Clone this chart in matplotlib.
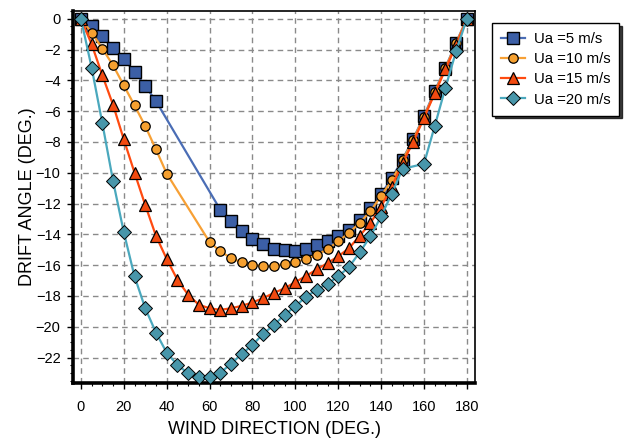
import matplotlib
matplotlib.use("Agg")
import matplotlib.pyplot as plt
from matplotlib.ticker import MultipleLocator

plt.rcParams['font.family'] = ['Liberation Sans', 'DejaVu Sans']

# Data
x5 = [0, 5, 10, 15, 20, 25, 30, 35,
      65, 70, 75, 80, 85, 90, 95, 100, 105, 110, 115, 120, 125, 130, 135,
      140, 145, 150, 155, 160, 165, 170, 175, 180]
y5 = [0, -0.47, -1.12, -1.87, -2.63, -3.44, -4.37, -5.35,
      -12.4, -13.1, -13.8, -14.3, -14.6, -14.93, -15.04, -15.08, -14.95, -14.72,
      -14.4, -14.1, -13.7, -13.05, -12.3, -11.4, -10.33, -9.14, -7.8, -6.32,
      -4.7, -3.18, -1.55, 0]

x10 = [0, 5, 10, 15, 20, 25, 30, 35, 40,
       60, 65, 70, 75, 80, 85, 90, 95, 100, 105, 110, 115, 120, 125, 130, 135,
       140, 145, 150, 155, 160, 165, 170, 175, 180]
y10 = [0, -0.9, -1.94, -3.03, -4.33, -5.63, -6.97, -8.49, -10.05,
       -14.5, -15.1, -15.54, -15.82, -15.97, -16.08, -16.04, -15.93, -15.78,
       -15.6, -15.35, -14.95, -14.46, -13.9, -13.26, -12.5, -11.5, -10.5, -9.2,
       -7.85, -6.38, -4.78, -3.22, -1.6, 0]

x15 = [0, 5, 10, 15, 20, 25, 30, 35, 40, 45, 50, 55, 60, 65, 70, 75, 80, 85,
       90, 95, 100, 105, 110, 115, 120, 125, 130, 135, 140, 145, 150, 155, 160,
       165, 170, 175, 180]
y15 = [0, -1.66, -3.68, -5.6, -7.84, -10.0, -12.1, -14.1, -15.6, -16.95,
       -17.92, -18.57, -18.8, -18.9, -18.8, -18.64, -18.42, -18.14, -17.8, -17.5,
       -17.1, -16.7, -16.28, -15.86, -15.43, -14.9, -14.1, -13.26, -12.2, -10.9,
       -9.36, -8.0, -6.43, -4.85, -3.29, -1.72, 0]

x20 = [0, 5, 10, 15, 20, 25, 30, 35, 40, 45, 50, 55, 60, 65, 70, 75, 80, 85,
       90, 95, 100, 105, 110, 115, 120, 125, 130, 135, 140, 145, 150,
       160, 165, 170, 175, 180]
y20 = [0, -3.18, -6.8, -10.55, -13.87, -16.73, -18.8, -20.38, -21.68, -22.48,
       -23.02, -23.24, -23.24, -22.98, -22.41, -21.76, -21.18, -20.46, -19.88,
       -19.23, -18.66, -18.05, -17.6, -17.2, -16.73, -16.12, -15.17, -14.13,
       -12.83, -11.35, -9.75, -9.42, -6.97, -4.48, -2.1, 0]

labels = ['Ua =5 m/s', 'Ua =10 m/s', 'Ua =15 m/s', 'Ua =20 m/s']
xticks = list(range(0, 181, 20))
yticks = list(range(-22, 1, 2))

fig = plt.figure(figsize=(6.31, 4.41), dpi=100)
ax = fig.add_axes([0.1157, 0.1315, 0.6371, 0.8435])

ax.plot(x5, y5, color='#4a6db5', lw=1.6, marker='s', ms=8.5, mfc='#3c5fa6',
        mec='black', mew=1.0, label=labels[0], zorder=3)
ax.plot(x10, y10, color='#f7a035', lw=1.6, marker='o', ms=6.8, mfc='#f5a030',
        mec='black', mew=0.9, label=labels[1], zorder=4)
ax.plot(x15, y15, color='#ff4a10', lw=1.6, marker='^', ms=8, mfc='#f24a10',
        mec='black', mew=0.9, label=labels[2], zorder=5)
ax.plot(x20, y20, color='#4aa8bd', lw=1.6, marker='D', ms=6.8, mfc='#4896aa',
        mec='black', mew=0.7, label=labels[3], zorder=6)

ax.set_xlim(-3.7, 183.8)
ax.set_ylim(-23.65, 0.5)
ax.set_xticks(xticks)
ax.set_yticks(yticks)
ax.xaxis.set_minor_locator(MultipleLocator(5))
ax.yaxis.set_minor_locator(MultipleLocator(0.5))
ax.tick_params(which='major', direction='out', length=4, width=1, labelsize=10.5,
               colors='black')
ax.tick_params(axis='x', which='major', pad=8)
ax.tick_params(axis='y', which='major', pad=5)
ax.tick_params(which='minor', direction='out', length=2.5, width=0.8)

ax.grid(True, which='major', color='#8a8a8a', linestyle=(0, (4, 3)), lw=1.0)
ax.set_axisbelow(True)

ax.spines['left'].set_linewidth(2.6)
ax.spines['bottom'].set_linewidth(2.6)
ax.spines['top'].set_linewidth(1.2)
ax.spines['right'].set_linewidth(1.2)
for s in ax.spines.values():
    s.set_color('black')

ax.set_xlabel('WIND DIRECTION (DEG.)', fontsize=13, labelpad=5)
ax.set_ylabel('DRIFT ANGLE (DEG.)', fontsize=13, labelpad=0)

leg = fig.legend(loc='upper left', bbox_to_anchor=(492 / 631, 1 - 23 / 441),
                 borderaxespad=0,
                 fontsize=10.7, frameon=True, fancybox=False, edgecolor='black',
                 handlelength=1.6, handletextpad=0.6, borderpad=0.6,
                 labelspacing=0.42,
                 shadow={'color': 'black', 'alpha': 0.75})
leg.get_frame().set_linewidth(1.0)

fig.savefig('out.png', dpi=100)
